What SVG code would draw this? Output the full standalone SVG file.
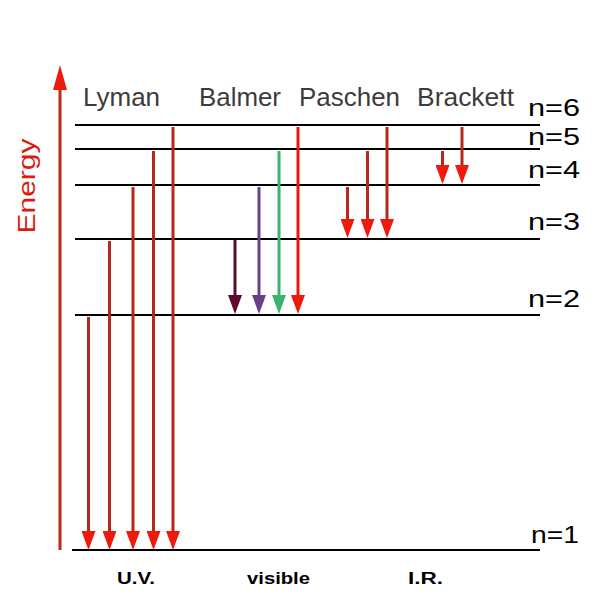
<svg xmlns="http://www.w3.org/2000/svg" width="600" height="600" viewBox="0 0 600 600">
<style>
.lvl{stroke:#000;stroke-width:2;fill:none}
.sh{stroke:#b5281c;stroke-width:3;fill:none}
.series{font-family:"Liberation Sans",Arial,sans-serif;font-size:26px;fill:#3c3c3c}
.nl{font-family:"Liberation Sans",Arial,sans-serif;font-size:24px;fill:#000}
.reg{font-family:"Liberation Sans",Arial,sans-serif;font-size:16px;font-weight:bold;fill:#000}
</style>
<defs>
<marker id="hr" markerUnits="userSpaceOnUse" markerWidth="20" markerHeight="14" refX="11" refY="7" orient="auto"><path d="M0,0 L19,7 L0,14 z" fill="#ee1a0c"/></marker>
<marker id="hm" markerUnits="userSpaceOnUse" markerWidth="20" markerHeight="14" refX="11" refY="7" orient="auto"><path d="M0,0 L19,7 L0,14 z" fill="#5c0a30"/></marker>
<marker id="hp" markerUnits="userSpaceOnUse" markerWidth="20" markerHeight="14" refX="11" refY="7" orient="auto"><path d="M0,0 L19,7 L0,14 z" fill="#6a3f88"/></marker>
<marker id="hg" markerUnits="userSpaceOnUse" markerWidth="20" markerHeight="14" refX="11" refY="7" orient="auto"><path d="M0,0 L19,7 L0,14 z" fill="#3bb36e"/></marker>
</defs>
<rect width="600" height="600" fill="#fff"/>

<g id="axis">
<line x1="60" y1="550" x2="60" y2="88" stroke="#c0281c" stroke-width="3"/>
<polygon points="60,65 53,90 67,90" fill="#ee1a0c"/>
<text transform="translate(35,186) rotate(-90)" text-anchor="middle" font-family="Liberation Sans,Arial,sans-serif" font-size="23" fill="#dd1a10" textLength="95" lengthAdjust="spacingAndGlyphs">Energy</text>
</g>

<g id="levels">
<g id="n6"><line class="lvl" x1="75" y1="125" x2="540" y2="125"/><text class="nl" x="528" y="116" textLength="52" lengthAdjust="spacingAndGlyphs">n=6</text></g>
<g id="n5"><line class="lvl" x1="75" y1="149" x2="540" y2="149"/><text class="nl" x="528" y="145" textLength="52" lengthAdjust="spacingAndGlyphs">n=5</text></g>
<g id="n4"><line class="lvl" x1="75" y1="185" x2="540" y2="185"/><text class="nl" x="528" y="178" textLength="52" lengthAdjust="spacingAndGlyphs">n=4</text></g>
<g id="n3"><line class="lvl" x1="75" y1="239" x2="540" y2="239"/><text class="nl" x="528" y="230" textLength="52" lengthAdjust="spacingAndGlyphs">n=3</text></g>
<g id="n2"><line class="lvl" x1="75" y1="315" x2="540" y2="315"/><text class="nl" x="528" y="307" textLength="52" lengthAdjust="spacingAndGlyphs">n=2</text></g>
<g id="n1"><line class="lvl" x1="72" y1="550" x2="540" y2="550"/><text class="nl" x="531" y="543" textLength="48" lengthAdjust="spacingAndGlyphs">n=1</text></g>
</g>

<g id="series-labels">
<text class="series" x="83" y="106">Lyman</text>
<text class="series" x="199" y="106" textLength="82" lengthAdjust="spacingAndGlyphs">Balmer</text>
<text class="series" x="299" y="106" textLength="101" lengthAdjust="spacingAndGlyphs">Paschen</text>
<text class="series" x="417" y="106" textLength="97" lengthAdjust="spacingAndGlyphs">Brackett</text>
</g>

<g id="connectors">
<g id="lyman">
<line class="sh" x1="88.5" y1="317" x2="88.5" y2="542" marker-end="url(#hr)"/>
<line class="sh" x1="109.5" y1="241" x2="109.5" y2="542" marker-end="url(#hr)"/>
<line class="sh" x1="133" y1="187" x2="133" y2="542" marker-end="url(#hr)"/>
<line class="sh" x1="153.5" y1="151" x2="153.5" y2="542" marker-end="url(#hr)"/>
<line class="sh" x1="173" y1="127" x2="173" y2="542" marker-end="url(#hr)"/>
</g>
<g id="balmer">
<line x1="235" y1="240" x2="235" y2="306" stroke="#5c0a30" stroke-width="3" marker-end="url(#hm)"/>
<line x1="259" y1="187" x2="259" y2="306" stroke="#6a3f88" stroke-width="3" marker-end="url(#hp)"/>
<line x1="279" y1="151" x2="279" y2="306" stroke="#3bb36e" stroke-width="3" marker-end="url(#hg)"/>
<line x1="298" y1="127" x2="298" y2="306" stroke="#e81a0c" stroke-width="3" marker-end="url(#hr)"/>
</g>
<g id="paschen">
<line class="sh" x1="347.5" y1="187" x2="347.5" y2="230" marker-end="url(#hr)"/>
<line class="sh" x1="367.5" y1="151" x2="367.5" y2="230" marker-end="url(#hr)"/>
<line class="sh" x1="387" y1="127" x2="387" y2="230" marker-end="url(#hr)"/>
</g>
<g id="brackett">
<line class="sh" x1="442.5" y1="151" x2="442.5" y2="176" marker-end="url(#hr)"/>
<line class="sh" x1="462" y1="127" x2="462" y2="176" marker-end="url(#hr)"/>
</g>
</g>

<g id="regions">
<text class="reg" x="117" y="584" textLength="38" lengthAdjust="spacingAndGlyphs">U.V.</text>
<text class="reg" x="247" y="584" textLength="63" lengthAdjust="spacingAndGlyphs">visible</text>
<text class="reg" x="408" y="584" textLength="35" lengthAdjust="spacingAndGlyphs">I.R.</text>
</g>
</svg>
